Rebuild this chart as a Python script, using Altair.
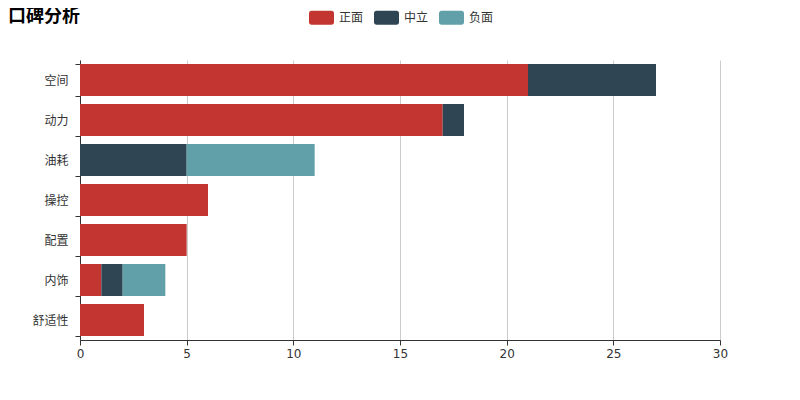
import altair as alt
import pandas as pd

categories = ['空间', '动力', '油耗', '操控', '配置', '内饰', '舒适性']
series = ['正面', '中立', '负面']
positive = [21, 17, 0, 6, 5, 1, 3]
neutral = [6, 1, 5, 0, 0, 1, 0]
negative = [0, 0, 6, 0, 0, 2, 0]
colors = ['#c23531', '#2f4554', '#61a0a8']
x_ticks = [0, 5, 10, 15, 20, 25, 30]

rows = []
for vals, s, o in [(positive, '正面', 0), (neutral, '中立', 1), (negative, '负面', 2)]:
    for c, v in zip(categories, vals):
        rows.append({'类别': c, '系列': s, '值': v, 'ord': o})
df = pd.DataFrame(rows)

FONT = "DejaVu Sans, Noto Sans CJK SC, sans-serif"
rounded = ("M-0.8,-0.56 H0.8 A0.2,0.2 0 0 1 1,-0.36 V0.36 A0.2,0.2 0 0 1 0.8,0.56 "
           "H-0.8 A0.2,0.2 0 0 1 -1,0.36 V-0.36 A0.2,0.2 0 0 1 -0.8,-0.56 Z")

chart = alt.Chart(df).mark_bar().encode(
    y=alt.Y('类别:N', sort=categories, title=None,
            scale=alt.Scale(paddingInner=0.2, paddingOuter=0.1),
            axis=alt.Axis(tickBand='extent', tickSize=5, labelPadding=7, grid=False,
                          domainColor='#333', tickColor='#333', labelColor='#333',
                          labelFontSize=12, labelFont=FONT)),
    x=alt.X('值:Q', stack='zero', title=None,
            scale=alt.Scale(domain=[0, 30], nice=False),
            axis=alt.Axis(values=x_ticks, tickSize=5, labelPadding=3, grid=True,
                          labelFlush=False,
                          gridColor='#ccc', domainColor='#333', tickColor='#333',
                          labelColor='#333', labelFontSize=12, labelFont=FONT)),
    color=alt.Color('系列:N', sort=series,
                    scale=alt.Scale(domain=series, range=colors),
                    legend=alt.Legend(title=None, orient='none', direction='horizontal',
                                      legendX=229, legendY=-55, symbolType=rounded,
                                      symbolSize=625, symbolOpacity=1, symbolStrokeWidth=0,
                                      labelOffset=5, columnPadding=10, padding=0,
                                      labelFontSize=12, labelColor='#333', labelFont=FONT)),
    order=alt.Order('ord:Q'),
).properties(
    width=640, height=280,
    title=alt.TitleParams('口碑分析', anchor='start', frame='group', dx=-72, fontSize=18,
                          fontWeight='bold', font=FONT, color='#000', offset=-21),
    autosize=alt.AutoSizeParams(type='none'),
    padding={'left': 72, 'right': 72, 'top': 52, 'bottom': 52},
).configure_view(stroke=None)

chart.save("out.html", embed_options={"renderer": "svg", "actions": False})
